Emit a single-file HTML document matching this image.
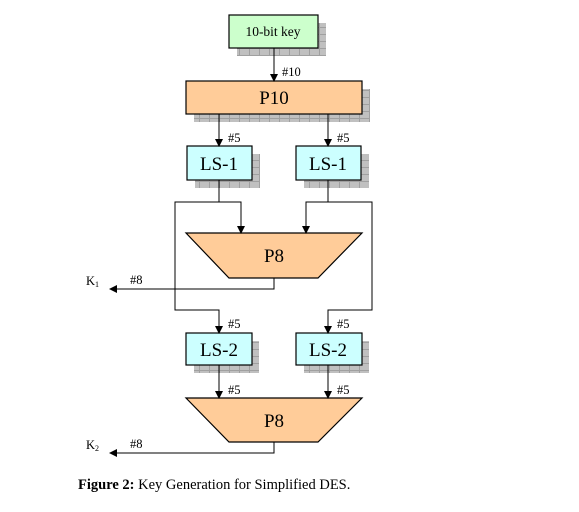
<!DOCTYPE html>
<html><head><meta charset="utf-8"><style>
html,body{margin:0;padding:0;background:#fff;}
svg text{font-family:"Liberation Serif",serif;fill:#000;}
</style></head><body>
<svg width="579" height="507" viewBox="0 0 579 507" xmlns="http://www.w3.org/2000/svg">
<defs>
<marker id="ah" markerWidth="8" markerHeight="8" refX="7" refY="4" orient="auto" markerUnits="userSpaceOnUse"><path d="M0,0 L8,4 L0,8 z" fill="#000"/></marker>
<pattern id="sh" width="10" height="7" patternUnits="userSpaceOnUse"><rect width="10" height="7" fill="#c0c0c0"/><path d="M0,6.5H10M9.5,0V7" stroke="#a0a0a0" stroke-width="1"/></pattern>
</defs>
<g stroke="none">
<rect x="237" y="23" width="89" height="33" fill="url(#sh)"/>
<rect x="194" y="89" width="176" height="33" fill="url(#sh)"/>
<rect x="195" y="154" width="65" height="34" fill="url(#sh)"/>
<rect x="304" y="154" width="65" height="34" fill="url(#sh)"/>
<rect x="194" y="341" width="65" height="32" fill="url(#sh)"/>
<rect x="304" y="341" width="65" height="32" fill="url(#sh)"/>
</g>
<g stroke="#000" stroke-width="1.2">
<rect x="229" y="15" width="89" height="33" fill="#ccffcc"/>
<rect x="186" y="81" width="176" height="33" fill="#ffcc99"/>
<rect x="187" y="146" width="65" height="34" fill="#ccffff"/>
<rect x="296" y="146" width="65" height="34" fill="#ccffff"/>
<polygon points="186,233 362,233 318,278 229,278" fill="#ffcc99"/>
<rect x="186" y="333" width="66" height="32" fill="#ccffff"/>
<rect x="296" y="333" width="66" height="32" fill="#ccffff"/>
<polygon points="186,398 362,398 318,442 229,442" fill="#ffcc99"/>
</g>
<g stroke="#000" stroke-width="1" fill="none">
<path d="M274,48V81" marker-end="url(#ah)"/>
<path d="M219,114V146" marker-end="url(#ah)"/>
<path d="M328,114V146" marker-end="url(#ah)"/>
<path d="M219,180V202H175V310H219V333" marker-end="url(#ah)"/>
<path d="M219,202H241V233" marker-end="url(#ah)"/>
<path d="M328,180V202H372V310H328V333" marker-end="url(#ah)"/>
<path d="M328,202H306V233" marker-end="url(#ah)"/>
<path d="M274,278V289H110" marker-end="url(#ah)"/>
<path d="M219,365V398" marker-end="url(#ah)"/>
<path d="M328,365V398" marker-end="url(#ah)"/>
<path d="M274,442V453H110" marker-end="url(#ah)"/>
</g>
<text x="273" y="36" font-size="13.5" text-anchor="middle">10-bit key</text>
<text x="282" y="76" font-size="12.5">#10</text>
<text x="274" y="104" font-size="19" text-anchor="middle">P10</text>
<text x="228" y="142" font-size="12.5">#5</text>
<text x="337" y="142" font-size="12.5">#5</text>
<text x="219" y="170" font-size="19" text-anchor="middle">LS-1</text>
<text x="328" y="170" font-size="19" text-anchor="middle">LS-1</text>
<text x="274" y="262" font-size="19" text-anchor="middle">P8</text>
<text x="86" y="285" font-size="12.5">K<tspan font-size="8" dy="2">1</tspan></text>
<text x="130" y="284" font-size="12.5">#8</text>
<text x="228" y="328" font-size="12.5">#5</text>
<text x="337" y="328" font-size="12.5">#5</text>
<text x="219" y="356" font-size="19" text-anchor="middle">LS-2</text>
<text x="328" y="356" font-size="19" text-anchor="middle">LS-2</text>
<text x="228" y="394" font-size="12.5">#5</text>
<text x="337" y="394" font-size="12.5">#5</text>
<text x="274" y="427" font-size="19" text-anchor="middle">P8</text>
<text x="86" y="449" font-size="12.5">K<tspan font-size="8" dy="2">2</tspan></text>
<text x="130" y="448" font-size="12.5">#8</text>
<text x="78" y="489" font-size="14.5"><tspan font-weight="bold">Figure 2:</tspan> Key Generation for Simplified DES.</text>
</svg>
</body></html>
